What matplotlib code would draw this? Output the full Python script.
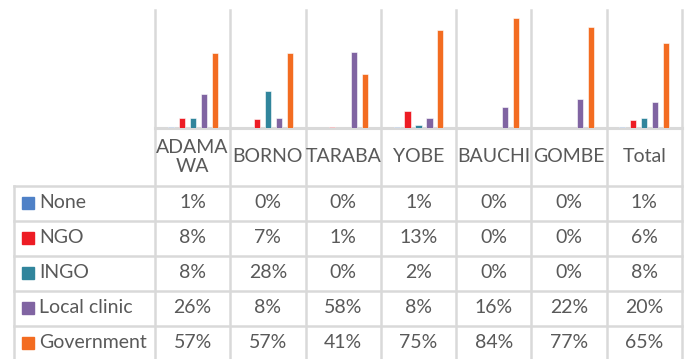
import numpy as np
import matplotlib.pyplot as plt

plt.rcParams['font.family'] = ['Lato', 'DejaVu Sans']

regions = ["ADAMA\nWA", "BORNO", "TARABA", "YOBE", "BAUCHI", "GOMBE", "Total"]
series = ["None", "NGO", "INGO", "Local clinic", "Government"]
none_pct = [1, 0, 0, 1, 0, 0, 1]
ngo_pct = [8, 7, 1, 13, 0, 0, 6]
ingo_pct = [8, 28, 0, 2, 0, 0, 8]
clinic_pct = [26, 8, 58, 8, 16, 22, 20]
govt_pct = [57, 57, 41, 75, 84, 77, 65]
colors = ["#4F81C7", "#ED1C24", "#31859C", "#8064A2", "#F36C21"]

values = [none_pct, ngo_pct, ingo_pct, clinic_pct, govt_pct]
grid_col = "#D9D9D9"
text_col = "#595959"
fs = 14

W, H = 689, 359
fig = plt.figure(figsize=(W / 100, H / 100), dpi=100)

# pixel-space layer for the data table
tab = fig.add_axes([0, 0, 1, 1])
tab.set_xlim(0, W)
tab.set_ylim(H, 0)
tab.axis("off")

x0, x1 = 155, 682
top, base = 10, 128
row_edges = [186, 221, 256, 291, 326, 361]
col_w = (x1 - x0) / len(regions)
col_edges = [x0 + i * col_w for i in range(len(regions) + 1)]

# bar chart area sits above the table
ax = fig.add_axes([x0 / W, (H - base) / H, (x1 - x0) / W, (base - top) / H])
ax.set_xlim(-0.5, len(regions) - 0.5)
ax.set_ylim(0, 90)
ax.axis("off")

step, bw = 0.146, 0.08
x = np.arange(len(regions))
for k, (name, vals) in enumerate(zip(series, values)):
    ax.bar(x + (k - 2) * step, vals, width=bw, color=colors[k],
           edgecolor="white", linewidth=0.4, zorder=3)

# grid lines through chart and table
for cx in col_edges:
    tab.plot([cx, cx], [top, H], color=grid_col, lw=1.8, zorder=1)
tab.plot([x0, x1], [base, base], color=grid_col, lw=2.2, zorder=1)
tab.plot([14, 14], [row_edges[0], H], color=grid_col, lw=1.8)
for ry in row_edges[:-1]:
    tab.plot([14, x1], [ry, ry], color=grid_col, lw=1.8)

# header row
for i, r in enumerate(regions):
    cx = (col_edges[i] + col_edges[i + 1]) / 2
    tab.text(cx, (base + row_edges[0]) / 2, r, ha="center", va="center",
             fontsize=fs, color=text_col, linespacing=1.1)

# legend keys and values
for k, (name, vals) in enumerate(zip(series, values)):
    cy = (row_edges[k] + row_edges[k + 1]) / 2 - 1
    tab.add_patch(plt.Rectangle((22, cy - 6), 12, 12, color=colors[k]))
    tab.text(39, cy, name, ha="left", va="center", fontsize=fs, color=text_col)
    for i, v in enumerate(vals):
        cx = (col_edges[i] + col_edges[i + 1]) / 2
        tab.text(cx, cy, f"{v}%", ha="center", va="center",
                 fontsize=fs, color=text_col)

fig.savefig("out.png", dpi=100)
